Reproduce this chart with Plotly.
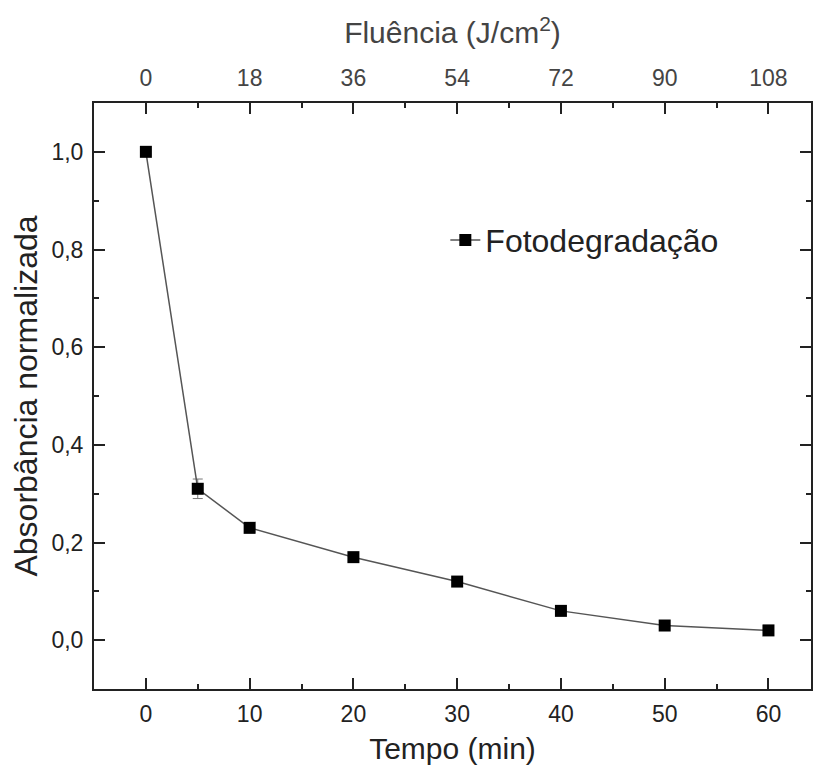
import plotly.graph_objects as go

# Data
tempo = [0, 5, 10, 20, 30, 40, 50, 60]
absorbancia = [1.0, 0.31, 0.23, 0.17, 0.12, 0.06, 0.03, 0.02]
erro = [0.005, 0.02, 0.008, 0.006, 0.006, 0.005, 0.005, 0.004]
fluencia_ticks = [0, 18, 36, 54, 72, 90, 108]
fator_fluencia = 1.8  # J/cm² per minute

x_range = [-5, 64.1]
y_range = [-0.1, 1.1]

font_main = "Liberation Sans, Arial, sans-serif"

fig = go.Figure()
fig.add_trace(go.Scatter(
    x=tempo, y=absorbancia, mode="lines+markers", name="Fotodegradação",
    line=dict(color="#555555", width=1.5),
    marker=dict(symbol="square", size=12, color="black"),
    error_y=dict(type="data", array=erro, color="#777777", thickness=1, width=5),
))
# invisible trace for top (fluence) axis
fig.add_trace(go.Scatter(
    x=[t * fator_fluencia for t in tempo], y=absorbancia, xaxis="x2",
    mode="markers", marker=dict(opacity=0), showlegend=False, hoverinfo="skip",
))

axis_common = dict(
    showline=True, linecolor="#222222", linewidth=2, showgrid=False, zeroline=False,
    ticks="inside", ticklen=11, tickwidth=2, tickcolor="#222222",
)

fig.update_layout(
    width=813, height=774,
    margin=dict(l=94, r=0, t=103, b=85),
    plot_bgcolor="white", paper_bgcolor="white",
    separators=", ",
    font=dict(family=font_main, color="#222222"),
    showlegend=True,
    legend=dict(x=0.49, y=0.766, xanchor="left", yanchor="middle",
                font=dict(size=32, family=font_main, color="#222222"),
                bgcolor="rgba(0,0,0,0)"),
    xaxis=dict(
        range=x_range, tickvals=[0, 10, 20, 30, 40, 50, 60],
        minor=dict(dtick=5, tick0=0, ticks="inside", ticklen=5, tickwidth=2, tickcolor="#222222"),
        tickfont=dict(size=23, family=font_main, color="#222222"),
        ticklabelstandoff=3,
        title=dict(text="Tempo (min)", font=dict(size=30, family=font_main, color="#222222"), standoff=12),
        **axis_common,
    ),
    xaxis2=dict(
        overlaying="x", side="top",
        range=[x_range[0] * fator_fluencia, x_range[1] * fator_fluencia],
        tickvals=fluencia_ticks, ticktext=[str(v) for v in fluencia_ticks],
        minor=dict(dtick=9, tick0=0, ticks="inside", ticklen=5, tickwidth=2, tickcolor="#222222"),
        tickfont=dict(size=23, family=font_main, color="#444444"),
        ticklabelstandoff=6,
        title=dict(text="Fluência (J/cm<sup>2</sup>)", font=dict(size=30, family=font_main, color="#444444"), standoff=12),
        **axis_common,
    ),
    yaxis=dict(
        range=y_range, tickvals=[0, 0.2, 0.4, 0.6, 0.8, 1.0], tickformat=".1f",
        minor=dict(dtick=0.1, tick0=0, ticks="inside", ticklen=5, tickwidth=2, tickcolor="#222222"),
        mirror="ticks",
        tickfont=dict(size=23, family=font_main, color="#222222"),
        ticklabelstandoff=4,
        title=dict(text="Absorbância normalizada", font=dict(size=32, family=font_main, color="#222222"), standoff=4),
        **axis_common,
    ),
)

fig.write_html("out.html")
